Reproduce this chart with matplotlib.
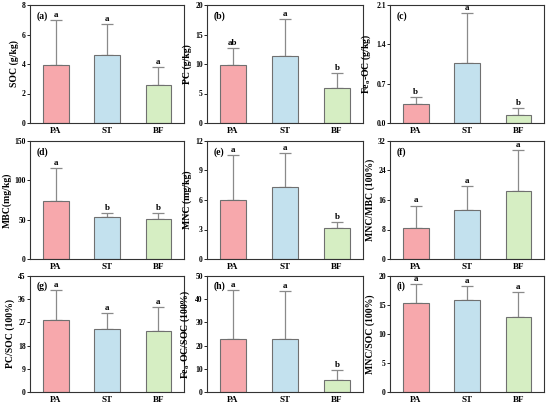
import matplotlib
matplotlib.use("Agg")
import matplotlib.pyplot as plt
import numpy as np

plt.rcParams['font.family'] = ['Liberation Serif', 'DejaVu Serif']
plt.rcParams['font.weight'] = 'bold'
plt.rcParams['mathtext.fontset'] = 'custom'
plt.rcParams['mathtext.rm'] = 'Liberation Serif:bold'
plt.rcParams['mathtext.it'] = 'Liberation Serif:italic:bold'
plt.rcParams['mathtext.bf'] = 'Liberation Serif:bold'

categories = ["PA", "ST", "BF"]
colors = ["#F7A8AC", "#C3E1EE", "#D6EEC3"]

panel_labels = ["(a)", "(b)", "(c)", "(d)", "(e)", "(f)", "(g)", "(h)", "(i)"]
ylabels = ["SOC (g/kg)", "PC (g/kg)", r"Fe$_{\mathrm{o}}$-OC (g/kg)",
           "MBC(mg/kg)", "MNC (mg/kg)", "MNC/MBC (100%)",
           "PC/SOC (100%)", r"Fe$_{\mathrm{o}}$-OC/SOC (100%)", "MNC/SOC (100%)"]

means = [
    [3.95, 4.6, 2.6],
    [9.8, 11.3, 6.0],
    [0.33, 1.07, 0.15],
    [74, 54, 51],
    [6.0, 7.3, 3.2],
    [8.5, 13.2, 18.5],
    [27.8, 24.4, 23.7],
    [22.8, 23.0, 5.3],
    [15.4, 15.8, 12.9],
]
errs = [
    [3.05, 2.1, 1.2],
    [2.9, 6.3, 2.4],
    [0.14, 0.88, 0.12],
    [42, 4, 7],
    [4.6, 3.5, 0.6],
    [6.0, 6.5, 11.0],
    [11.7, 6.1, 9.3],
    [21.0, 20.5, 4.2],
    [3.2, 2.5, 4.3],
]
letters = [
    ["a", "a", "a"],
    ["ab", "a", "b"],
    ["b", "a", "b"],
    ["a", "b", "b"],
    ["a", "a", "b"],
    ["a", "a", "a"],
    ["a", "a", "a"],
    ["a", "a", "b"],
    ["a", "a", "a"],
]
yticks = [
    [0, 2, 4, 6, 8],
    [0, 5, 10, 15, 20],
    [0.0, 0.7, 1.4, 2.1],
    [0, 50, 100, 150],
    [0, 3, 6, 9, 12],
    [0, 8, 16, 24, 32],
    [0, 9, 18, 27, 36, 45],
    [0, 10, 20, 30, 40, 50],
    [0, 5, 10, 15, 20],
]

W, H = 550, 408
fig = plt.figure(figsize=(5.5, 4.08), dpi=100)
cols = [(30, 184), (207, 363), (390, 544)]
rows = [(5, 123), (141, 259), (276, 392)]

x = np.arange(len(categories))
for i in range(9):
    r, c = divmod(i, 3)
    l, rt = cols[c]
    t, b = rows[r]
    ax = fig.add_axes([l / W, 1 - b / H, (rt - l) / W, (b - t) / H])
    ax.bar(x, means[i], width=0.5, color=colors, edgecolor="#707070", linewidth=0.8, zorder=2)
    ax.errorbar(x, means[i], yerr=[np.zeros(3), errs[i]], fmt="none",
                ecolor="#8a8a8a", elinewidth=0.9, capsize=4.5, capthick=0.9, zorder=1)
    ymax = yticks[i][-1]
    ax.set_ylim(0, ymax)
    ax.set_xlim(-0.5, 2.5)
    ax.set_yticks(yticks[i])
    if i == 2:
        ax.set_yticklabels(["0.0", "0.7", "1.4", "2.1"])
    ax.set_xticks(x)
    ax.set_xticklabels(categories)
    for s in ax.spines.values():
        s.set_linewidth(0.8)
        s.set_color("#333333")
    ax.tick_params(axis="y", labelsize=5.5, length=2, width=0.6, pad=1)
    ax.tick_params(axis="x", labelsize=6.5, length=0, pad=3)
    for lab in ax.get_xticklabels() + ax.get_yticklabels():
        lab.set_fontweight("bold")
    ax.set_ylabel(ylabels[i], fontsize=7, fontweight="bold", labelpad=2)
    for j in range(3):
        ax.annotate(letters[i][j], (x[j], means[i][j] + errs[i][j]),
                    xytext=(0, 2.2), textcoords="offset points",
                    ha="center", va="baseline", fontsize=6.5, fontweight="bold")
    ax.text(0.04, 0.95, panel_labels[i], transform=ax.transAxes, ha="left", va="top",
            fontsize=7, fontweight="bold")

fig.savefig("out.png", dpi=100)
